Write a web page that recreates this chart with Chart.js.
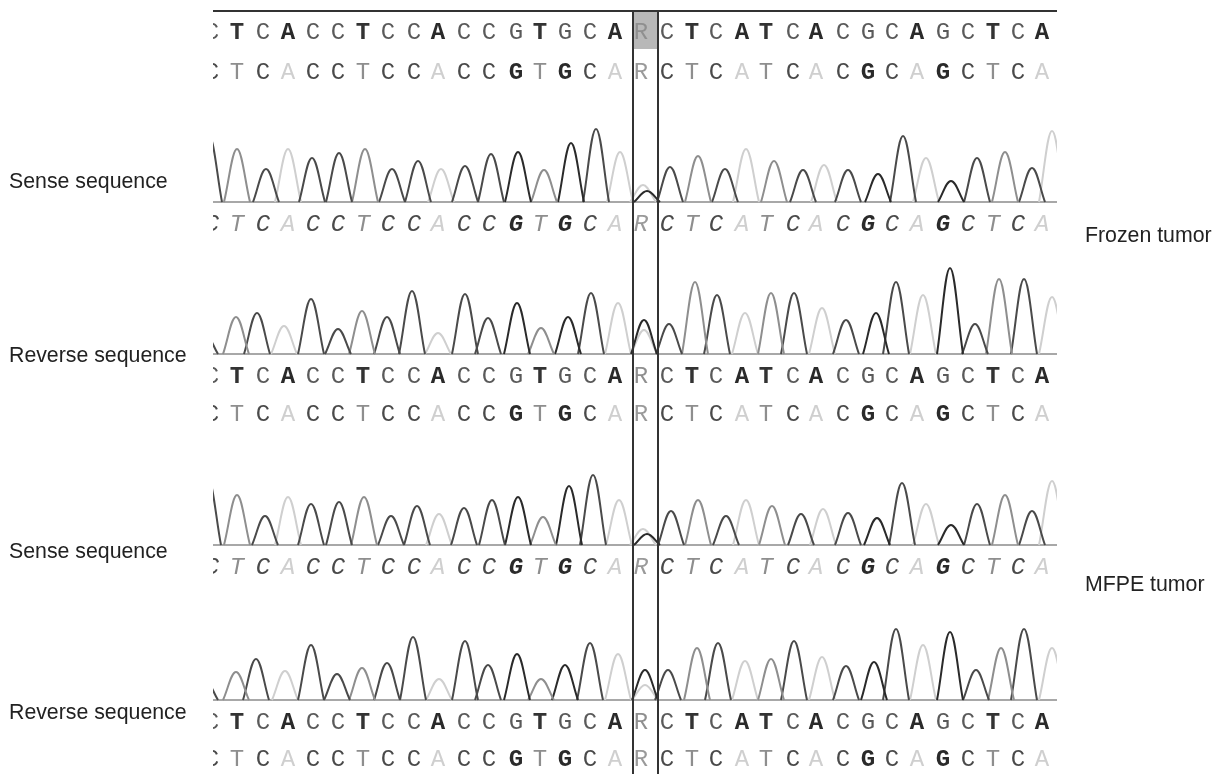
<!DOCTYPE html>
<html>
<head>
<meta charset="utf-8">
<title>Sequence traces</title>
<script src="https://cdn.jsdelivr.net/npm/chart.js@4"></script>
<style>
  html, body { margin: 0; padding: 0; background: #fff; }
  canvas { display: block; filter: blur(0.35px); }
</style>
</head>
<body>
<canvas id="traces" width="1212" height="774"></canvas>
<script>
// base calls, R is the mixed A/G position
const baseCalls = 'CTCACCTCCACCGTGCARCTCATCACGCAGCTCA'.split('');
const baseScans = [212, 237, 263, 288, 313, 338, 363, 388, 414, 438, 464, 489, 516, 540, 565, 590, 615,
  641, 667, 692, 716, 742, 766, 793, 816, 843, 868, 892, 917, 943, 968, 993, 1018, 1042];

// bases behind each peak, the R position has one A and one G peak
const peakBases = 'CTCACCTCCACCGTGCAAGCTCATCACGCAGCTCA'.split('');

const frozenSenseScans = [209, 237, 266, 288, 312, 339, 365, 392, 418, 441, 465, 491, 518, 544, 571, 596, 620,
  643, 647, 670, 698, 725, 746, 774, 803, 824, 848, 878, 903, 926, 951, 977, 1005, 1032, 1052];
const frozenSenseHeights = [66, 53, 33, 53, 44, 49, 53, 33, 41, 33, 36, 48, 50, 32, 59, 73, 50,
  17, 11, 35, 46, 33, 53, 41, 32, 37, 32, 28, 66, 44, 21, 44, 50, 34, 71];

const frozenReverseScans = [205, 236, 257, 284, 311, 338, 362, 387, 412, 438, 465, 488, 517, 541, 568, 591, 618,
  644, 644, 669, 695, 717, 745, 771, 794, 822, 846, 876, 896, 923, 950, 975, 999, 1024, 1052];
const frozenReverseHeights = [20, 37, 41, 28, 55, 25, 43, 37, 63, 21, 60, 36, 51, 26, 37, 61, 51,
  24, 34, 30, 72, 59, 41, 61, 61, 46, 34, 41, 72, 59, 86, 30, 75, 75, 57];

const mfpeSenseScans = [208, 237, 265, 288, 311, 339, 364, 391, 417, 439, 464, 492, 518, 543, 569, 593, 619,
  643, 647, 671, 698, 726, 746, 772, 801, 823, 848, 877, 902, 926, 951, 977, 1005, 1032, 1052];
const mfpeSenseHeights = [66, 50, 29, 48, 41, 43, 48, 29, 39, 31, 37, 45, 48, 28, 59, 70, 45,
  16, 11, 34, 45, 29, 45, 39, 31, 36, 32, 27, 62, 41, 20, 41, 50, 34, 64];

const mfpeReverseScans = [205, 236, 256, 285, 311, 337, 362, 387, 413, 439, 465, 488, 517, 541, 565, 590, 618,
  645, 645, 668, 697, 718, 745, 771, 794, 822, 846, 874, 896, 923, 950, 976, 1001, 1024, 1052];
const mfpeReverseHeights = [20, 28, 41, 29, 55, 26, 32, 37, 63, 21, 59, 35, 46, 21, 35, 57, 46,
  15, 30, 30, 52, 57, 39, 41, 59, 43, 34, 38, 71, 55, 68, 30, 52, 71, 52];

const baseColors = { A: '#cfcfcf', C: '#4a4a4a', G: '#2a2a2a', T: '#8e8e8e', R: '#9a9a9a' };
const boldColors = { A: '#2a2a2a', C: '#5a5a5a', G: '#5a5a5a', T: '#333333', R: '#8f8f8f' };

const traceLeft = 213, traceRight = 1057;
const peakHalfWidth = 13;

const panels = [
  { id: 'frozenSense', scans: frozenSenseScans, heights: frozenSenseHeights, baseline: 202 },
  { id: 'frozenReverse', scans: frozenReverseScans, heights: frozenReverseHeights, baseline: 354 },
  { id: 'mfpeSense', scans: mfpeSenseScans, heights: mfpeSenseHeights, baseline: 545 },
  { id: 'mfpeReverse', scans: mfpeReverseScans, heights: mfpeReverseHeights, baseline: 700 }
];

// letter rows: y centre, colours, which letters are heavy
const letterRows = [
  { y: 33, colors: boldColors, italic: false, heavy: 'AT' },
  { y: 73, colors: baseColors, italic: false, heavy: 'G' },
  { y: 225, colors: baseColors, italic: true, heavy: 'G' },
  { y: 377, colors: boldColors, italic: false, heavy: 'AT' },
  { y: 415, colors: baseColors, italic: false, heavy: 'G' },
  { y: 568, colors: baseColors, italic: true, heavy: 'G' },
  { y: 723, colors: boldColors, italic: false, heavy: 'AT' },
  { y: 760, colors: baseColors, italic: false, heavy: 'G' }
];

const sideLabels = [
  { text: 'Sense sequence', x: 9, y: 188 },
  { text: 'Reverse sequence', x: 9, y: 362 },
  { text: 'Sense sequence', x: 9, y: 558 },
  { text: 'Reverse sequence', x: 9, y: 719 },
  { text: 'Frozen tumor', x: 1085, y: 242 },
  { text: 'MFPE tumor', x: 1085, y: 591 }
];

const traceClip = { left: -traceLeft, right: traceRight - 1212, top: 0, bottom: 0 };

const datasets = [];
const scales = {
  x: { type: 'linear', min: 0, max: 1212, display: false }
};

panels.forEach(function (panel) {
  // zero of each y scale sits on the panel's baseline
  scales[panel.id] = { type: 'linear', min: panel.baseline - 774, max: panel.baseline, display: false };
  panel.scans.forEach(function (scan, i) {
    datasets.push({
      data: [
        { x: scan - peakHalfWidth, y: 0 },
        { x: scan, y: panel.heights[i] },
        { x: scan + peakHalfWidth, y: 0 }
      ],
      yAxisID: panel.id,
      borderColor: baseColors[peakBases[i]],
      borderWidth: 2,
      pointRadius: 0,
      tension: 0.38,
      clip: traceClip,
      order: peakBases[i] === 'A' ? 3 : 2
    });
  });
  datasets.push({
    data: [{ x: traceLeft, y: 0 }, { x: traceRight, y: 0 }],
    yAxisID: panel.id,
    borderColor: '#a8a8a8',
    borderWidth: 2,
    pointRadius: 0,
    order: 4
  });
});

const sequenceDecor = {
  id: 'sequenceDecor',
  beforeDatasetsDraw(chart) {
    const ctx = chart.ctx;
    const xs = chart.scales.x;
    ctx.save();
    // highlight behind the selected R
    ctx.fillStyle = '#b8b8b8';
    ctx.fillRect(xs.getPixelForValue(633), 12, xs.getPixelForValue(658) - xs.getPixelForValue(633), 37);
    ctx.restore();
  },
  afterDatasetsDraw(chart) {
    const ctx = chart.ctx;
    const xs = chart.scales.x;
    ctx.save();
    ctx.beginPath();
    ctx.rect(traceLeft, 0, traceRight - traceLeft, 774);
    ctx.clip();
    ctx.textAlign = 'center';
    ctx.textBaseline = 'middle';
    letterRows.forEach(function (row) {
      baseCalls.forEach(function (base, i) {
        const weight = row.heavy.includes(base) ? 'bold ' : '';
        ctx.font = (row.italic ? 'italic ' : '') + weight + '24px "Liberation Mono"';
        ctx.fillStyle = row.colors[base];
        ctx.fillText(base, xs.getPixelForValue(baseScans[i]), row.y);
      });
    });
    ctx.restore();

    ctx.save();
    ctx.strokeStyle = '#333';
    ctx.lineWidth = 2;
    ctx.beginPath();
    ctx.moveTo(xs.getPixelForValue(traceLeft), 11);
    ctx.lineTo(xs.getPixelForValue(traceRight), 11);
    [633, 658].forEach(function (scan) {
      ctx.moveTo(xs.getPixelForValue(scan), 11);
      ctx.lineTo(xs.getPixelForValue(scan), 774);
    });
    ctx.stroke();

    ctx.fillStyle = '#222';
    ctx.font = '21.3px "Liberation Sans"';
    ctx.textAlign = 'left';
    ctx.textBaseline = 'alphabetic';
    sideLabels.forEach(function (label) {
      ctx.fillText(label.text, label.x, label.y);
    });
    ctx.restore();
  }
};

new Chart(document.getElementById('traces'), {
  type: 'line',
  data: { datasets: datasets },
  options: {
    responsive: false,
    animation: false,
    parsing: false,
    layout: { padding: 0 },
    scales: scales,
    plugins: { legend: { display: false }, tooltip: { enabled: false } }
  },
  plugins: [sequenceDecor]
});
</script>
</body>
</html>
